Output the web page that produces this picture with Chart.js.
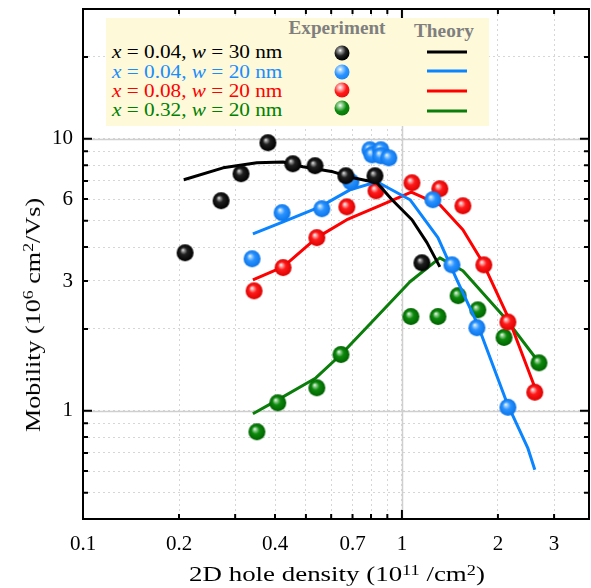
<!DOCTYPE html>
<html>
<head>
<meta charset="utf-8">
<script src="https://cdn.jsdelivr.net/npm/chart.js@4.4.1/dist/chart.umd.min.js"></script>
<style>
html,body{margin:0;padding:0;background:#fff;}
#wrap{position:relative;width:591px;height:588px;overflow:hidden;}
#c{position:absolute;left:0;top:0;}
.ov{position:absolute;font-family:"Liberation Serif","Times New Roman",serif;white-space:nowrap;line-height:1;}
#legend{position:absolute;left:106px;top:18px;width:383px;height:108px;background:#fdf9d9;}
.hdr{font-weight:bold;color:#7f7f7f;font-size:18px;}
.row{font-size:19px;left:112px;transform-origin:0 50%;}
.row i{font-style:italic;}
.ball{position:absolute;width:15px;height:15px;border-radius:50%;transform:translate(-50%,-50%);}
.lg{position:absolute;height:3px;left:427px;width:40px;transform:translateY(-50%);}
sup{font-size:68%;vertical-align:0;position:relative;top:-0.45em;}
#ytitle{font-size:22px;left:33px;top:315px;}
#xtitle{font-size:21px;left:337px;top:574px;}
</style>
</head>
<body>
<div id="wrap">
<canvas id="c" width="591" height="588"></canvas>
<div id="legend"></div>
<div id="hExp" class="ov hdr" style="left:337px;top:28px;">Experiment</div>
<div id="hTh" class="ov hdr" style="left:444px;top:31px;">Theory</div>
<div class="ov row" style="top:51px;color:#000;"><i>x</i> = 0.04, <i>w</i> = 30 nm</div>
<div class="ov row" style="top:71px;color:#1a8cff;"><i>x</i> = 0.04, <i>w</i> = 20 nm</div>
<div class="ov row" style="top:90px;color:#ff0000;"><i>x</i> = 0.08, <i>w</i> = 20 nm</div>
<div class="ov row" style="top:109px;color:#008000;"><i>x</i> = 0.32, <i>w</i> = 20 nm</div>
<div class="ball" style="left:342px;top:53px;background:radial-gradient(circle at 38% 33%,#ffffff 0%,#9a9a9a 14%,#222 40%,#000 70%,#000 100%);"></div>
<div class="ball" style="left:342px;top:72px;background:radial-gradient(circle at 38% 33%,#ffffff 0%,#9fd0ff 16%,#2a93ff 45%,#0a78f0 100%);"></div>
<div class="ball" style="left:342px;top:90px;background:radial-gradient(circle at 38% 33%,#ffffff 0%,#ffb0b0 16%,#ff1a1a 45%,#e00000 100%);"></div>
<div class="ball" style="left:342px;top:108px;background:radial-gradient(circle at 38% 33%,#ffffff 0%,#9cd49c 16%,#0d8a0d 45%,#006600 100%);"></div>
<div class="lg" style="top:52px;background:#000;"></div>
<div class="lg" style="top:71px;background:#0a84ff;"></div>
<div class="lg" style="top:91px;background:#ff0000;"></div>
<div class="lg" style="top:111px;background:#0a7d0a;"></div>
<div id="ytitle" class="ov">Mobility (10<sup>6</sup> cm<sup>2</sup>/Vs)</div>
<div id="xtitle" class="ov">2D hole density (10<sup>11</sup> /cm<sup>2</sup>)</div>
</div>
<script>
// ---- Data (x: 2D hole density, 10^11 /cm^2 ; y: mobility, 10^6 cm^2/Vs) ----
const blackExpX = [0.209, 0.271, 0.313, 0.380, 0.455, 0.534, 0.667, 0.823, 1.155];
const blackExpY = [3.81, 5.92, 7.44, 9.67, 8.09, 7.96, 7.31, 7.31, 3.50];
const blackThX  = [0.207, 0.275, 0.351, 0.424, 0.489, 0.608, 0.702, 0.835, 0.931, 1.075, 1.198, 1.315];
const blackThY  = [7.07, 7.82, 8.16, 8.22, 7.89, 7.56, 7.19, 6.89, 5.97, 5.04, 4.15, 3.38];

const blueExpX = [0.339, 0.421, 0.561, 0.692, 0.794, 0.806, 0.859, 0.859, 0.910, 1.25, 1.435, 1.718, 2.149];
const blueExpY = [3.62, 5.35, 5.53, 6.95, 9.11, 8.73, 9.11, 8.66, 8.51, 5.97, 3.44, 2.02, 1.03];
const blueThX  = [0.341, 0.424, 0.553, 0.687, 0.835, 1.06, 1.297, 1.487, 1.718, 2.134, 2.48, 2.61];
const blueThY  = [4.47, 4.95, 5.62, 6.49, 6.95, 5.97, 4.33, 3.03, 2.11, 1.07, 0.731, 0.607];

const redExpX = [0.344, 0.424, 0.541, 0.672, 0.829, 1.075, 1.315, 1.553, 1.807, 2.149, 2.61];
const redExpY = [2.76, 3.36, 4.33, 5.62, 6.44, 6.89, 6.55, 5.67, 3.44, 2.12, 1.17];
const redThX  = [0.341, 0.424, 0.541, 0.672, 0.835, 1.07, 1.315, 1.553, 1.795, 2.149, 2.61];
const redThY  = [3.03, 3.38, 4.33, 5.04, 5.62, 6.36, 5.72, 4.63, 3.50, 2.22, 1.22];

const greenExpX = [0.351, 0.408, 0.541, 0.644, 1.067, 1.297, 1.5, 1.73, 2.09, 2.69];
const greenExpY = [0.837, 1.07, 1.215, 1.61, 2.22, 2.22, 2.65, 2.35, 1.86, 1.50];
const greenThX  = [0.341, 0.408, 0.537, 0.644, 0.805, 1.06, 1.315, 1.553, 2.13, 2.65];
const greenThY  = [0.975, 1.097, 1.32, 1.61, 2.12, 2.98, 3.65, 3.27, 2.16, 1.54];

const xTickVals = [0.1,0.2,0.3,0.4,0.5,0.6,0.7,0.8,0.9,1,2,3];
const xTickLabels = [0.1,0.2,0.4,0.7,1,2,3];
const yTickVals = [0.4,0.5,0.6,0.7,0.8,0.9,1,2,3,4,5,6,7,8,9,10,20,30];
const yTickLabels = [1,3,6,10];
const xMajor = [1];
const yMajor = [1,10];

function pts(xs, ys){ return xs.map((x,i)=>({x:x, y:ys[i]})); }
function has(arr, v){ return arr.some(a=>Math.abs(a-v)<1e-9); }

// ---- fit overlay text to reference extents ----
(function(){
  const xt = document.getElementById('xtitle');
  xt.style.transform = 'translate(-50%,-50%) scaleX(' + (296/xt.offsetWidth) + ')';
  const yt = document.getElementById('ytitle');
  yt.style.transform = 'translate(-50%,-50%) rotate(-90deg) scaleX(' + (234/yt.offsetWidth) + ')';
  const rows = document.querySelectorAll('.row');
  const k = 170/rows[0].offsetWidth;
  rows.forEach(r=>{ r.style.transform = 'translateY(-50%) scaleX(' + k + ')'; });
  const he = document.getElementById('hExp');
  he.style.transform = 'translate(-50%,-50%) scaleX(' + (97/he.offsetWidth) + ')';
  const ht = document.getElementById('hTh');
  ht.style.transform = 'translate(-50%,-50%) scaleX(' + (60/ht.offsetWidth) + ')';
})();

function sphere(stops, r){
  const c = document.createElement('canvas');
  const s = Math.ceil(r*2)+2; c.width = s; c.height = s;
  const g = c.getContext('2d');
  const cx = s/2, cy = s/2;
  const grad = g.createRadialGradient(cx - r*0.28, cy - r*0.35, 0, cx, cy, r);
  stops.forEach(st=>grad.addColorStop(st[0], st[1]));
  g.fillStyle = grad; g.beginPath(); g.arc(cx, cy, r, 0, Math.PI*2); g.fill();
  return c;
}
const R = 8.5;
const sBlack = sphere([[0,'#ffffff'],[0.14,'#a0a0a0'],[0.42,'#202020'],[1,'#000000']], R);
const sBlue  = sphere([[0,'#ffffff'],[0.16,'#a8d4ff'],[0.46,'#2a93ff'],[1,'#0a74ea']], R);
const sRed   = sphere([[0,'#ffffff'],[0.16,'#ffb4b4'],[0.46,'#ff1a1a'],[1,'#dd0000']], R);
const sGreen = sphere([[0,'#ffffff'],[0.16,'#9fd49f'],[0.46,'#0d8a0d'],[1,'#006200']], R);

function lineDs(xs, ys, color, order){
  return {data:pts(xs,ys), showLine:true, borderColor:color, borderWidth:3, pointRadius:0,
          pointHoverRadius:0, fill:false, tension:0, order:order, borderJoinStyle:'round', borderCapStyle:'butt'};
}
function ptDs(xs, ys, img, order){
  return {data:pts(xs,ys), showLine:false, pointStyle:img, pointRadius:R, order:order};
}

const datasets = [
  lineDs(greenThX, greenThY, '#0a7d0a', 8),
  ptDs(greenExpX, greenExpY, sGreen, 7),
  lineDs(redThX, redThY, '#ff0000', 6),
  ptDs(redExpX, redExpY, sRed, 5),
  lineDs(blueThX, blueThY, '#0a84ff', 4),
  ptDs(blueExpX, blueExpY, sBlue, 3),
  lineDs(blackThX, blackThY, '#000000', 2),
  ptDs(blackExpX, blackExpY, sBlack, 1)
];

const framePlugin = {
  id:'frame',
  beforeDatasetsDraw(chart){
    const {ctx, chartArea:a, scales:{x,y}} = chart;
    ctx.save(); ctx.strokeStyle='#cfcfcf'; ctx.lineWidth=1.5;
    xMajor.forEach(v=>{const p=Math.round(x.getPixelForValue(v))+0.5; ctx.beginPath(); ctx.moveTo(p,a.top); ctx.lineTo(p,a.bottom); ctx.stroke();});
    yMajor.forEach(v=>{const p=Math.round(y.getPixelForValue(v))+0.5; ctx.beginPath(); ctx.moveTo(a.left,p); ctx.lineTo(a.right,p); ctx.stroke();});
    ctx.restore();
  },
  afterDraw(chart){
    const {ctx, chartArea:a, scales:{x,y}} = chart;
    ctx.save(); ctx.strokeStyle='#000'; ctx.lineWidth=2;
    ctx.strokeRect(a.left, a.top, a.right-a.left, a.bottom-a.top);
    x.ticks.forEach(t=>{
      const p = x.getPixelForValue(t.value);
      if (p<=a.left+1 || p>=a.right-1) return;
      const L = has(xMajor,t.value)?9:5;
      ctx.beginPath(); ctx.moveTo(p,a.bottom); ctx.lineTo(p,a.bottom-L); ctx.moveTo(p,a.top); ctx.lineTo(p,a.top+L); ctx.stroke();
    });
    y.ticks.forEach(t=>{
      const p = y.getPixelForValue(t.value);
      if (p<=a.top+1 || p>=a.bottom-1) return;
      const L = has(yMajor,t.value)?9:5;
      ctx.beginPath(); ctx.moveTo(a.left,p); ctx.lineTo(a.left+L,p); ctx.moveTo(a.right,p); ctx.lineTo(a.right-L,p); ctx.stroke();
    });
    ctx.restore();
  }
};

function noPad(s){ s.paddingLeft=0; s.paddingRight=0; s.paddingTop=0; s.paddingBottom=0; }
const tickFont = {family:'"Liberation Serif", "Times New Roman", serif', size:21};
new Chart(document.getElementById('c'), {
  type:'scatter',
  data:{datasets},
  options:{
    responsive:false, animation:false,
    layout:{autoPadding:false, padding:{top:9, right:2, left:0, bottom:0}},
    plugins:{legend:{display:false}, tooltip:{enabled:false}},
    events:[],
    scales:{
      x:{type:'logarithmic', min:0.1, max:3.86,
         afterBuildTicks:s=>{s.ticks = xTickVals.map(v=>({value:v}));},
         afterFit:s=>{s.height=69; noPad(s);},
         ticks:{autoSkip:false, maxRotation:0, minRotation:0, padding:13, color:'#000', font:tickFont,
                callback:v=> has(xTickLabels,v)? String(v) : ''},
         grid:{color:'#d6d6d6', lineWidth:1, drawTicks:false},
         border:{display:false, dash:[2,3]}},
      y:{type:'logarithmic', min:0.4, max:30,
         afterBuildTicks:s=>{s.ticks = yTickVals.map(v=>({value:v}));},
         afterFit:s=>{s.width=83; noPad(s);},
         ticks:{autoSkip:false, padding:10, color:'#000', font:tickFont,
                callback:v=> has(yTickLabels,v)? String(v) : ''},
         grid:{color:'#d6d6d6', lineWidth:1, drawTicks:false},
         border:{display:false, dash:[2,3]}}
    }
  },
  plugins:[framePlugin]
});
</script>
</body>
</html>
